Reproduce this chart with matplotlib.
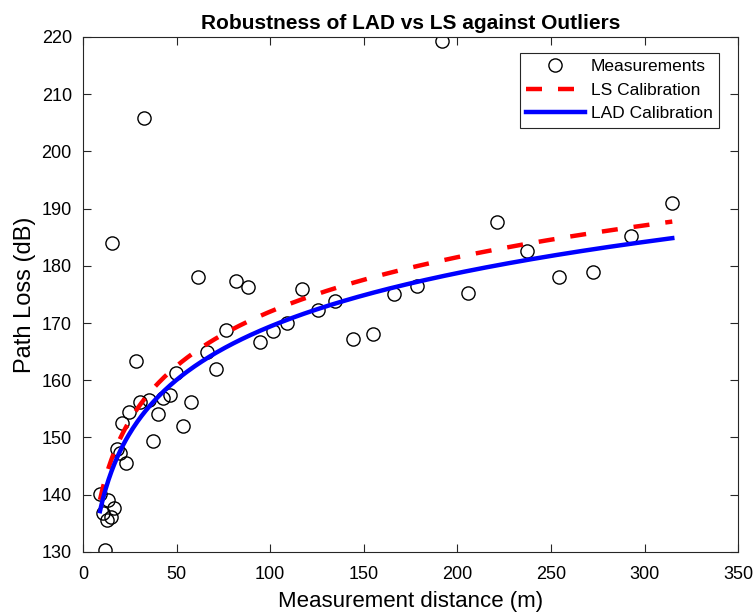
import numpy as np
import matplotlib.pyplot as plt

plt.rcParams.update({
    "font.family": ["Liberation Sans", "DejaVu Sans"],
    "font.size": 13,
})

distance = [9.1, 10.7, 11.8, 12.8, 13.4, 14.8, 16.6, 15.5, 18.2, 19.8,
            20.8, 23.0, 24.6, 28.3, 30.5, 32.6, 35.3, 37.4, 40.1, 42.8,
            46.5, 49.7, 53.4, 57.7, 61.5, 66.3, 71.1, 76.4, 81.8, 88.2,
            94.6, 101.5, 109.0, 117.0, 125.6, 134.7, 144.3, 155.0, 166.2, 178.5,
            191.9, 205.8, 221.3, 237.3, 254.4, 272.6, 292.9, 314.8]
path_loss = [140.1, 136.8, 130.3, 135.6, 139.1, 136.1, 137.7, 184.0, 148.0, 147.3,
             152.6, 145.6, 154.5, 163.4, 156.2, 205.9, 156.6, 149.4, 154.1, 156.9,
             157.4, 161.3, 152.0, 156.2, 178.0, 165.0, 162.0, 168.8, 177.4, 176.3,
             166.7, 168.6, 170.0, 176.0, 172.3, 173.9, 167.2, 168.1, 175.1, 176.5,
             219.3, 175.3, 187.7, 182.6, 178.1, 179.0, 185.2, 191.0]

# Log-distance model parameters
ls_pl0, ls_n = 108.8, 3.16     # LS calibration
lad_pl0, lad_n = 107.4, 3.10   # LAD calibration

d = np.linspace(min(distance), max(distance), 400)
ls_curve = ls_pl0 + 10 * ls_n * np.log10(d)
lad_curve = lad_pl0 + 10 * lad_n * np.log10(d)

fig = plt.figure(figsize=(7.54, 6.16), dpi=100)
ax = fig.add_axes([0.110, 0.104, 0.869, 0.836])

ax.plot(distance, path_loss, 'o', mfc='none', mec='black', mew=1.0, ms=9.5,
        label='Measurements')
ax.plot(d, ls_curve, '--', color='red', lw=3.2, dashes=(3.6, 3.6), label='LS Calibration')
ax.plot(d, lad_curve, '-', color='blue', lw=3.2, label='LAD Calibration')

ax.set_xlim(0, 350)
ax.set_ylim(130, 220)
ax.set_xticks(range(0, 351, 50))
ax.set_yticks(range(130, 221, 10))
ax.tick_params(direction='in', top=True, right=True, length=6, width=0.8,
               labelsize=13, colors='#262626', labelcolor='black')
ax.tick_params(axis='x', pad=10)
ax.tick_params(axis='y', pad=8)
for s in ax.spines.values():
    s.set_color('#262626')
    s.set_linewidth(0.8)

ax.set_xlabel('Measurement distance (m)', fontsize=16, labelpad=6)
ax.set_ylabel('Path Loss (dB)', fontsize=17, labelpad=4)
ax.set_title('Robustness of LAD vs LS against Outliers', fontsize=15,
             fontweight='bold', pad=6)

leg = ax.legend(loc='upper right', fancybox=False, framealpha=1, edgecolor='#262626',
                fontsize=12.5, handlelength=3.4, handletextpad=0.35, borderpad=0.36,
                labelspacing=0.48, borderaxespad=0,
                bbox_to_anchor=(0.971, 0.969))
leg.get_frame().set_linewidth(0.8)

fig.savefig('out.png', dpi=100)
